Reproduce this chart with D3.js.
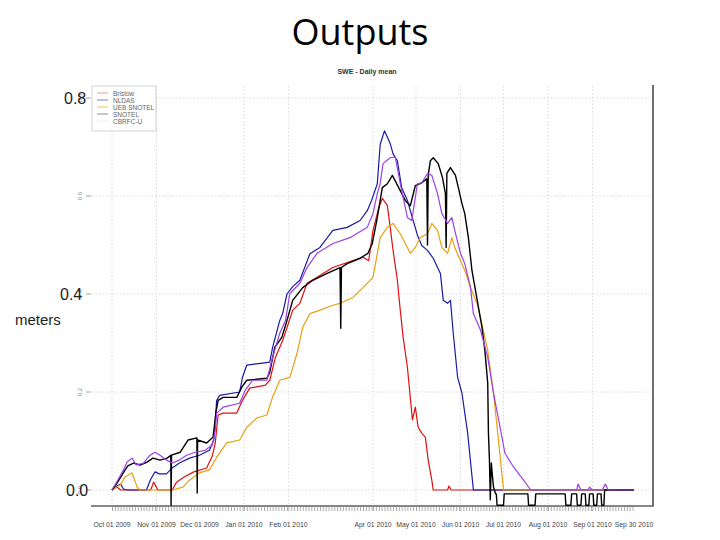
<!DOCTYPE html>
<html>
<head>
<meta charset="utf-8">
<title>Outputs</title>
<script src="https://cdn.jsdelivr.net/npm/d3@7"></script>
<style>
  body { margin: 0; background: #fff; }
  svg { display: block; }
</style>
</head>
<body>
<div id="container"></div>
<script>
// Series: [day since Oct 01 2009, SWE in meters]
const bristow = [[0,0],[3.5,0.006],[6,0],[27,0],[29,0.016],[32,0],[42,0],[45,0.016],[50,0.026],[57,0.037],[66,0.045],[70,0.07],[72,0.096],[74,0.153],[77.5,0.157],[87,0.157],[91,0.183],[96,0.208],[107,0.214],[110,0.224],[114,0.271],[119,0.305],[123,0.34],[126,0.367],[131,0.381],[136,0.422],[143,0.434],[154,0.454],[168,0.468],[175,0.475],[179,0.468],[182,0.53],[186,0.576],[188.5,0.595],[192,0.581],[194,0.536],[196,0.489],[199,0.428],[201,0.367],[203,0.312],[206,0.25],[209.5,0.143],[211.5,0.169],[213.5,0.128],[216,0.116],[218.5,0.108],[220.5,0.061],[223,0.02],[224,0],[234,0],[235,0.008],[236.5,0],[364,0]];

const nldas = [[0,0],[3.5,0.008],[6,0.012],[8,0.002],[11,0],[24,0],[27,0.022],[30,0.037],[33,0.033],[38,0.033],[42,0.045],[47,0.055],[54,0.065],[61,0.071],[68,0.081],[71,0.102],[73,0.183],[75,0.193],[89,0.2],[91,0.23],[94,0.255],[105,0.259],[110,0.261],[112,0.291],[117,0.346],[119,0.36],[122,0.4],[126,0.415],[131,0.428],[138,0.482],[145,0.495],[154,0.53],[164,0.536],[173,0.55],[178,0.57],[181,0.591],[185,0.625],[187,0.705],[190,0.733],[194,0.707],[196,0.686],[199,0.672],[202,0.617],[206,0.591],[209,0.56],[213,0.52],[216,0.499],[220,0.489],[224,0.473],[229,0.442],[231,0.387],[234,0.381],[236,0.387],[238,0.319],[241,0.23],[244,0.198],[248,0.116],[252,0],[364,0]];

const uebSnotel = [[0,0],[5.6,0.01],[9,0.026],[14,0.035],[17.5,0.006],[19.5,0],[42,0],[49.5,0.006],[54,0.02],[61,0.035],[68,0.041],[73,0.067],[80,0.096],[89,0.102],[94,0.128],[101,0.147],[108,0.153],[112,0.19],[117,0.224],[124,0.23],[129,0.279],[133,0.332],[138,0.36],[145,0.367],[154,0.377],[159,0.381],[168,0.393],[175,0.413],[182,0.434],[187,0.515],[192,0.536],[196,0.544],[201,0.523],[204.5,0.503],[208,0.483],[211.5,0.495],[215,0.515],[220,0.523],[223,0.544],[227,0.53],[230,0.495],[234,0.483],[237,0.515],[239,0.495],[243,0.468],[246,0.448],[250,0.413],[255,0.377],[262,0.285],[266,0.198],[269,0.116],[273,0],[364,0]];

const snotel = [[0,0],[3.5,0.014],[7,0.031],[11,0.049],[15,0.055],[19.5,0.051],[24.5,0.057],[28.5,0.065],[33.5,0.061],[38.5,0.065],[41,0.071],[41.2,-0.031],[41.5,0.071],[47.5,0.077],[53,0.102],[58.5,0.106],[59.2,0.106],[59.4,-0.006],[59.7,0.102],[66,0.096],[70.5,0.108],[72.5,0.159],[74,0.183],[77.5,0.189],[87,0.189],[90.5,0.21],[94,0.224],[108,0.228],[110,0.24],[113.5,0.291],[118.5,0.312],[122,0.346],[126,0.387],[133,0.413],[140,0.428],[150,0.442],[159,0.454],[159.5,0.33],[160,0.454],[164,0.462],[173,0.473],[178.5,0.483],[181.5,0.503],[185,0.556],[188.5,0.617],[192,0.625],[195.5,0.642],[197.5,0.631],[201,0.611],[204.5,0.591],[208,0.58],[211.5,0.621],[216,0.627],[219.5,0.635],[220,0.5],[220.5,0.642],[222,0.672],[224,0.678],[227.5,0.666],[230.5,0.637],[232.5,0.605],[233,0.495],[233.5,0.646],[236,0.658],[239.5,0.642],[241.5,0.617],[244,0.585],[246,0.564],[248.5,0.515],[251,0.448],[258,0.332],[260,0.285],[262,0.218],[262.5,0.116],[263.2,0.061],[263.8,-0.02],[264.5,0.055],[266,0.006],[267.5,-0.008],[268,-0.008],[268.5,-0.031],[273,-0.031],[273.5,-0.008],[290,-0.008],[290.5,-0.031],[295,-0.031],[295.5,-0.008],[316,-0.008],[316.5,-0.031],[320,-0.031],[320.5,-0.008],[324,-0.008],[324.5,-0.031],[327,-0.031],[327.5,-0.008],[330,-0.008],[330.5,-0.031],[332.5,-0.031],[333,-0.008],[335.5,-0.008],[336,-0.031],[338,-0.031],[338.5,-0.008],[341,-0.008],[341.5,-0.031],[343,-0.031],[343.5,0],[364,0]];

const cbrfcU = [[0,0],[4,0.02],[8,0.041],[10.5,0.057],[14,0.065],[17,0.051],[22,0.055],[26.5,0.071],[30,0.077],[33.5,0.071],[38,0.061],[42,0.055],[47,0.061],[52,0.071],[58,0.077],[65,0.081],[70,0.092],[72,0.122],[73,0.157],[77.5,0.169],[89,0.177],[93,0.204],[98,0.224],[108,0.224],[112,0.271],[117,0.32],[121,0.346],[124,0.401],[131,0.422],[136,0.454],[143,0.483],[154,0.503],[166,0.515],[178,0.536],[182,0.564],[185,0.605],[187,0.625],[189,0.666],[194,0.678],[197.5,0.68],[201,0.625],[206,0.556],[209,0.55],[213,0.625],[216,0.627],[220,0.646],[223,0.642],[227,0.605],[230,0.564],[234,0.544],[237,0.556],[239,0.53],[243,0.483],[246,0.462],[250,0.413],[252,0.36],[257,0.326],[262,0.271],[266,0.198],[271,0.122],[274,0.075],[280,0.047],[287,0.02],[292,0],[324,0],[325,0.012],[327,0],[332,0],[333,0.006],[335,0],[342,0],[344,0.012],[346,0],[364,0]];

const seriesNames = ["Bristow", "NLDAS", "UEB SNOTEL", "SNOTEL", "CBRFC-U"];
const seriesData = [bristow, nldas, uebSnotel, snotel, cbrfcU];
const lineColors = ["#e01010", "#1a1aa6", "#eaa010", "#000000", "#9a40e6"];
const legendColors = ["#e8a0a0", "#8080b8", "#ecc850", "#909090", "#f2ecf8"];

const xTickDates = ["2009-10-01","2009-11-01","2009-12-01","2010-01-01","2010-02-01","2010-04-01","2010-05-01","2010-06-01","2010-07-01","2010-08-01","2010-09-01","2010-09-30"];
const xTickLabels = ["Oct 01 2009","Nov 01 2009","Dec 01 2009","Jan 01 2010","Feb 01 2010","Apr 01 2010","May 01 2010","Jun 01 2010","Jul 01 2010","Aug 01 2010","Sep 01 2010","Sep 30 2010"];
const xGridDates = ["2009-10-01","2009-11-01","2010-01-01","2010-02-01","2010-04-01","2010-05-01","2010-06-01","2010-07-01","2010-08-01","2010-09-01"];
const yTicks = [0, 0.2, 0.4, 0.6, 0.8];
const yTickLabels = ["0.0", "0.2", "0.4", "0.6", "0.8"];
const yOverlay = [0.8, 0.4, 0.0];
const yOverlayLabels = ["0.8", "0.4", "0.0"];

const width = 720, height = 540;
const svg = d3.select("#container").append("svg")
    .attr("width", width)
    .attr("height", height);

const parse = d3.utcParse("%Y-%m-%d");
const start = parse("2009-10-01");
const toDate = d => new Date(start.getTime() + d * 864e5);

const x = d3.scaleUtc()
    .domain([start, parse("2010-09-30")])
    .range([112, 634]);
const y = d3.scaleLinear()
    .domain([0, 0.8])
    .range([490, 98]);

// slide title
svg.append("text")
    .attr("x", 360).attr("y", 45)
    .attr("text-anchor", "middle")
    .style("font-family", "'Open Sans', sans-serif")
    .style("font-size", "36px")
    .style("fill", "#000")
    .text("Outputs");

// plot title
svg.append("text")
    .attr("x", 367).attr("y", 74)
    .attr("text-anchor", "middle")
    .style("font-family", "'Liberation Sans', Arial, sans-serif")
    .style("font-size", "7px")
    .style("font-weight", "bold")
    .style("fill", "#333")
    .text("SWE - Daily mean");

// grid
svg.append("g").selectAll("line")
    .data(xGridDates)
    .enter().append("line")
    .attr("x1", d => x(parse(d))).attr("x2", d => x(parse(d)))
    .attr("y1", 86).attr("y2", 505)
    .style("stroke", "#d0d0d0")
    .style("stroke-width", 0.8)
    .style("stroke-dasharray", "1.5,2");

svg.append("g").selectAll("line")
    .data(yTicks)
    .enter().append("line")
    .attr("x1", 92).attr("x2", 652)
    .attr("y1", d => y(d)).attr("y2", d => y(d))
    .style("stroke", "#d0d0d0")
    .style("stroke-width", 0.8)
    .style("stroke-dasharray", "1.5,2");

// frame (bottom + right)
svg.append("path")
    .attr("d", "M91,506 H653 V85")
    .style("fill", "none")
    .style("stroke", "#111")
    .style("stroke-width", 1.2);

// minor ticks every 2 days
const minor = d3.utcDay.every(2).range(start, parse("2010-09-30"));
svg.append("g").attr("transform", "translate(0,507)")
    .call(d3.axisBottom(x).tickValues(minor).tickSize(4).tickFormat(""))
    .call(g => g.select(".domain").remove())
    .call(g => g.selectAll("line").style("stroke", "#8a8a8a").style("stroke-width", 0.7));

// tick labels
svg.append("g").selectAll("text")
    .data(xTickDates)
    .enter().append("text")
    .attr("x", d => x(parse(d)))
    .attr("y", 527)
    .attr("text-anchor", "middle")
    .style("font-family", "'Liberation Sans', Arial, sans-serif")
    .style("font-size", "6.8px")
    .style("fill", "#444")
    .text((d, i) => xTickLabels[i]);

// y ticks and small rotated labels
svg.append("g").selectAll("line")
    .data(yTicks)
    .enter().append("line")
    .attr("x1", 86).attr("x2", 91)
    .attr("y1", d => y(d)).attr("y2", d => y(d))
    .style("stroke", "#888")
    .style("stroke-width", 0.8);

svg.append("g").selectAll("text")
    .data(yTicks)
    .enter().append("text")
    .attr("transform", d => `translate(82,${y(d)}) rotate(-90)`)
    .attr("text-anchor", "middle")
    .style("font-family", "'Liberation Sans', Arial, sans-serif")
    .style("font-size", "6px")
    .style("fill", "#888")
    .text((d, i) => yTickLabels[i]);

// series
const line = d3.line()
    .x(d => x(toDate(d[0])))
    .y(d => y(d[1]));

svg.append("g").selectAll("path")
    .data(seriesData)
    .enter().append("path")
    .attr("d", line)
    .style("fill", "none")
    .style("stroke", (d, i) => lineColors[i])
    .style("stroke-width", (d, i) => i === 3 ? 1.4 : 1.2)
    .style("stroke-linejoin", "round");

// legend
const legend = svg.append("g").attr("transform", "translate(92,86)");
legend.append("rect")
    .attr("width", 64).attr("height", 45)
    .style("fill", "#fff")
    .style("stroke", "#c8c8c8")
    .style("stroke-width", 0.8);
legend.selectAll("line.key")
    .data(seriesNames)
    .enter().append("line")
    .attr("class", "key")
    .attr("x1", 5).attr("x2", 16)
    .attr("y1", (d, i) => 7 + i * 7).attr("y2", (d, i) => 7 + i * 7)
    .style("stroke", (d, i) => legendColors[i])
    .style("stroke-width", 1);
legend.selectAll("text")
    .data(seriesNames)
    .enter().append("text")
    .attr("x", 21)
    .attr("y", (d, i) => 7 + i * 7)
    .attr("dominant-baseline", "central")
    .style("font-family", "'Liberation Sans', Arial, sans-serif")
    .style("font-size", "6.5px")
    .style("fill", "#666")
    .text(d => d);

// overlay labels from the slide
svg.append("g").selectAll("text")
    .data(yOverlay)
    .enter().append("text")
    .attr("x", (d, i) => [64, 60, 66][i])
    .attr("y", d => y(d))
    .attr("dominant-baseline", "central")
    .style("font-family", "'Liberation Sans', Arial, sans-serif")
    .style("font-size", "16px")
    .style("fill", "#222")
    .text((d, i) => yOverlayLabels[i]);

svg.append("text")
    .attr("x", 15).attr("y", 319)
    .attr("dominant-baseline", "central")
    .style("font-family", "'Liberation Sans', Arial, sans-serif")
    .style("font-size", "15px")
    .style("fill", "#222")
    .text("meters");
</script>
</body>
</html>
